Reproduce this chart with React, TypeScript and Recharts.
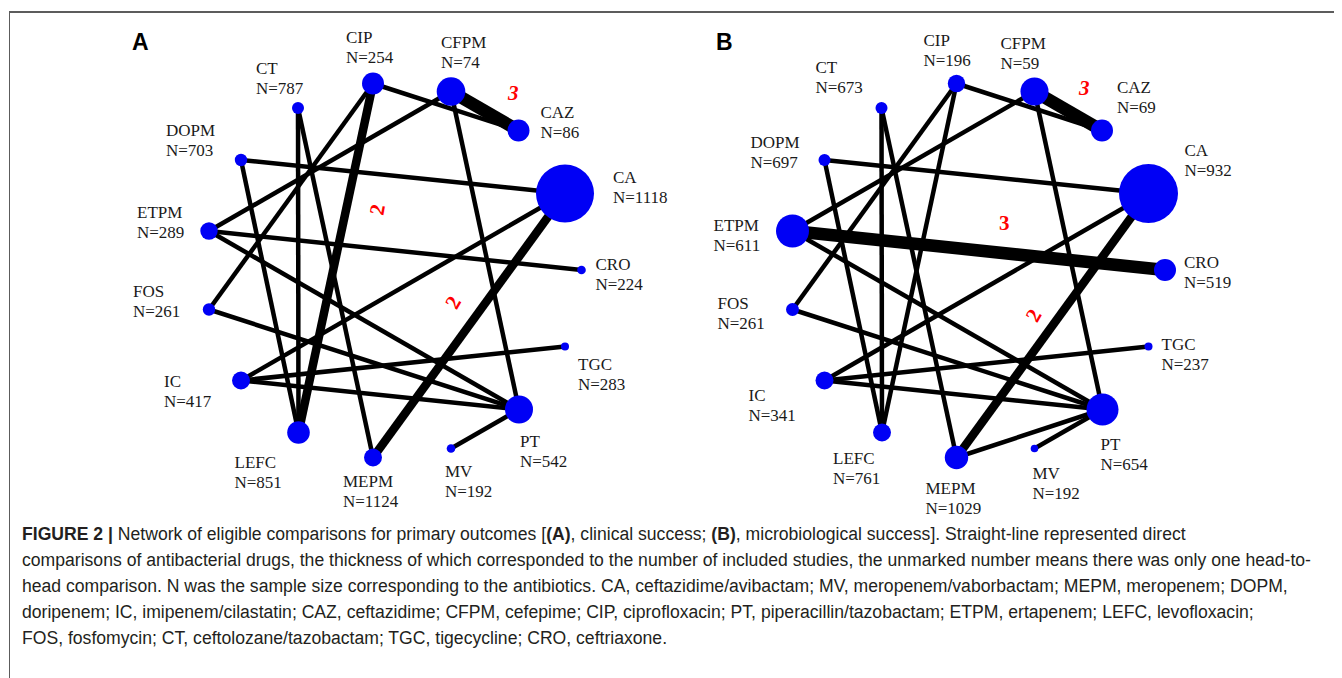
import React from 'react';
import { ScatterChart, Scatter, XAxis, YAxis } from 'recharts';

// Network of eligible comparisons, panels A (clinical) and B (microbiological)

const DRUGS = ['CT', 'CIP', 'CFPM', 'CAZ', 'DOPM', 'CA', 'ETPM', 'CRO', 'FOS', 'TGC', 'IC', 'PT', 'LEFC', 'MEPM', 'MV'];

// network layout (same layout in both panels)
const LAYOUT_X = [290, 365, 443, 510.5, 233, 557, 201, 573.5, 201, 557, 233, 511, 290.5, 365, 443];
const LAYOUT_Y = [100, 75.5, 83.5, 122.5, 152, 185.5, 223, 262, 301.5, 338.5, 372.5, 401.5, 424.5, 449.5, 440.5];

// sample sizes
const N_A = [787, 254, 74, 86, 703, 1118, 289, 224, 261, 283, 417, 542, 851, 1124, 192];
const N_B = [673, 196, 59, 69, 697, 932, 611, 519, 261, 237, 341, 654, 761, 1029, 192];

// node weight (drawn radius)
const WEIGHT_A = [6, 11, 14.3, 11, 6.2, 29, 8.7, 4.3, 6.2, 4, 9, 14, 11.3, 9, 4.3];
const WEIGHT_B = [6, 8.7, 14, 11, 6, 29.5, 16.5, 11, 6.5, 4, 9, 16, 9, 11.7, 3.8];

// direct comparisons: [drug, drug, number of studies]
const EDGES_A: [string, string, number][] = [
  ['CIP', 'CAZ', 1],
  ['CFPM', 'CAZ', 3],
  ['CIP', 'LEFC', 2],
  ['CIP', 'FOS', 1],
  ['ETPM', 'CFPM', 1],
  ['CT', 'LEFC', 1],
  ['CT', 'MEPM', 1],
  ['DOPM', 'CA', 1],
  ['DOPM', 'LEFC', 1],
  ['ETPM', 'CRO', 1],
  ['ETPM', 'PT', 1],
  ['FOS', 'PT', 1],
  ['IC', 'CA', 1],
  ['IC', 'TGC', 1],
  ['IC', 'PT', 1],
  ['CFPM', 'PT', 1],
  ['CA', 'MEPM', 2],
  ['MV', 'PT', 1],
];

const EDGES_B: [string, string, number][] = [
  ['CIP', 'CAZ', 1],
  ['CFPM', 'CAZ', 3],
  ['CIP', 'LEFC', 1],
  ['CIP', 'FOS', 1],
  ['ETPM', 'CFPM', 1],
  ['CT', 'LEFC', 1],
  ['CT', 'MEPM', 1],
  ['DOPM', 'CA', 1],
  ['DOPM', 'LEFC', 1],
  ['ETPM', 'CRO', 3],
  ['ETPM', 'PT', 1],
  ['FOS', 'PT', 1],
  ['IC', 'CA', 1],
  ['IC', 'TGC', 1],
  ['IC', 'PT', 1],
  ['CFPM', 'PT', 1],
  ['CA', 'MEPM', 2],
  ['MV', 'PT', 1],
  ['MEPM', 'PT', 1],
];

// ---- layout / style (not data) ----
const WIDTH = 1334;
const HEIGHT = 520;
const PANEL_B_SHIFT = 583.5;

const NAME_OFFSET_A: Record<string, [number, number]> = {
  CT: [-42, -34], CIP: [-27, -41], CFPM: [-10, -44], CAZ: [22, -13], DOPM: [-75, -24],
  CA: [48, -11], ETPM: [-72, -13], CRO: [14, 0], FOS: [-76, -13], TGC: [13, 23],
  IC: [-77, 6], PT: [1, 37], LEFC: [-64, 35], MEPM: [-30, 29], MV: [-6, 28],
};
const NAME_OFFSET_B: Record<string, [number, number]> = {
  CT: [-66, -35], CIP: [-33, -38], CFPM: [-34, -43], CAZ: [15, -38], DOPM: [-74, -12],
  CA: [36, -38], ETPM: [-79, 0], CRO: [19, -2], FOS: [-75, -1], TGC: [13, 3],
  IC: [-76, 20], PT: [-2, 40], LEFC: [-49, 31], MEPM: [-31, 36], MV: [-2, 30],
};

type CountStyle = { dx: number; dy: number; rot: number; italic?: boolean };
const COUNT_STYLE_A: Record<string, CountStyle> = {
  'CFPM-CAZ': { dx: 28.5, dy: -18.5, rot: 0, italic: true },
  'CIP-LEFC': { dx: 41.5, dy: -48.5, rot: -80 },
  'CA-MEPM': { dx: -16, dy: -23, rot: -60 },
};
const COUNT_STYLE_B: Record<string, CountStyle> = {
  'CFPM-CAZ': { dx: 16, dy: -23.5, rot: 0, italic: true },
  'ETPM-CRO': { dx: 25.5, dy: -28, rot: 0 },
  'CA-MEPM': { dx: -19, dy: -10, rot: -60 },
};

const edgeWidth = (studies: number) => 0.5 + studies * 4;

const serif = '"Liberation Serif", "Times New Roman", serif';
const sans = '"Liberation Sans", Arial, Helvetica, sans-serif';

function buildPanel(ns: number[], weights: number[], shift: number, offsets: Record<string, [number, number]>) {
  return DRUGS.map((name, i) => ({
    name,
    x: LAYOUT_X[i] + shift,
    y: LAYOUT_Y[i],
    n: ns[i],
    r: weights[i],
    ldx: offsets[name][0],
    ldy: offsets[name][1],
  }));
}

const NodeShape = (props: any) => {
  const { cx, cy } = props;
  const p = props.payload ?? props;
  const tx = cx + p.ldx;
  const ty = cy + p.ldy;
  return (
    <g>
      <circle cx={cx} cy={cy} r={p.r} fill="#0000f5" />
      <text x={tx} y={ty} fontFamily={serif} fontSize={17} fill="#1a1a1a">
        <tspan x={tx}>{p.name}</tspan>
        <tspan x={tx} dy={20}>{`N=${p.n}`}</tspan>
      </text>
    </g>
  );
};

const CountShape = (props: any) => {
  const { cx, cy } = props;
  const p = props.payload ?? props;
  const x = cx + p.dx;
  const y = cy + p.dy;
  return (
    <text
      x={x}
      y={y}
      textAnchor="middle"
      dominantBaseline="central"
      fontFamily={serif}
      fontSize={21}
      fontWeight="bold"
      fontStyle={p.italic ? 'italic' : 'normal'}
      fill="#ff0000"
      transform={p.rot ? `rotate(${p.rot} ${x} ${y})` : undefined}
    >
      {p.label}
    </text>
  );
};

const NoDot = () => <g />;

function panelMarks(
  key: string,
  ns: number[],
  weights: number[],
  shift: number,
  offsets: Record<string, [number, number]>,
  edges: [string, string, number][],
  countStyle: Record<string, CountStyle>
) {
  const nodes = buildPanel(ns, weights, shift, offsets);
  const at = (name: string) => nodes[DRUGS.indexOf(name)];
  const edgeSeries = edges.map(([a, b, k], i) => (
    <Scatter
      key={`${key}-e${i}`}
      data={[{ x: at(a).x, y: at(a).y }, { x: at(b).x, y: at(b).y }]}
      line={{ stroke: '#000', strokeWidth: edgeWidth(k) }}
      shape={NoDot}
      legendType="none"
      isAnimationActive={false}
    />
  ));
  const counts = edges
    .filter(([, , k]) => k > 1)
    .map(([a, b, k]) => {
      const st = countStyle[`${a}-${b}`] ?? { dx: 0, dy: -12, rot: 0 };
      return {
        x: (at(a).x + at(b).x) / 2,
        y: (at(a).y + at(b).y) / 2,
        label: String(k),
        ...st,
      };
    });
  return [
    ...edgeSeries,
    <Scatter key={`${key}-nodes`} data={nodes} shape={NodeShape} isAnimationActive={false} />,
    <Scatter key={`${key}-counts`} data={counts} shape={CountShape} isAnimationActive={false} />,
  ];
}

const CAPTION_LINES: React.ReactNode[] = [
  <>
    <b>FIGURE 2 |</b> Network of eligible comparisons for primary outcomes [<b>(A)</b>, clinical success; <b>(B)</b>,
    microbiological success]. Straight-line represented direct
  </>,
  'comparisons of antibacterial drugs, the thickness of which corresponded to the number of included studies, the unmarked number means there was only one head-to-',
  'head comparison. N was the sample size corresponding to the antibiotics. CA, ceftazidime/avibactam; MV, meropenem/vaborbactam; MEPM, meropenem; DOPM,',
  'doripenem; IC, imipenem/cilastatin; CAZ, ceftazidime; CFPM, cefepime; CIP, ciprofloxacin; PT, piperacillin/tazobactam; ETPM, ertapenem; LEFC, levofloxacin;',
  'FOS, fosfomycin; CT, ceftolozane/tazobactam; TGC, tigecycline; CRO, ceftriaxone.',
];

export default function App() {
  return (
    <div style={{ position: 'relative', width: WIDTH, height: 670 }}>
      <div
        style={{
          position: 'absolute',
          left: 0.5,
          top: 3,
          width: WIDTH,
          height: 667,
          borderTop: '2px solid #5c5c5c',
          borderLeft: '1.5px solid #5c5c5c',
          boxSizing: 'border-box',
        }}
      />
      <div style={{ position: 'absolute', left: 0, top: 0 }}>
        <ScatterChart width={WIDTH} height={HEIGHT} margin={{ top: 0, right: 0, bottom: 0, left: 0 }}>
          <XAxis type="number" dataKey="x" domain={[0, WIDTH]} hide allowDataOverflow />
          <YAxis type="number" dataKey="y" domain={[0, HEIGHT]} reversed hide allowDataOverflow />
          {panelMarks('A', N_A, WEIGHT_A, 0, NAME_OFFSET_A, EDGES_A, COUNT_STYLE_A)}
          {panelMarks('B', N_B, WEIGHT_B, PANEL_B_SHIFT, NAME_OFFSET_B, EDGES_B, COUNT_STYLE_B)}
        </ScatterChart>
      </div>
      <div style={{ position: 'absolute', left: 124, top: 21, fontFamily: sans, fontWeight: 'bold', fontSize: 23 }}>A</div>
      <div style={{ position: 'absolute', left: 708, top: 21, fontFamily: sans, fontWeight: 'bold', fontSize: 23 }}>B</div>
      <div
        style={{
          position: 'absolute',
          left: 14,
          top: 513,
          fontFamily: sans,
          fontSize: 17.6,
          lineHeight: '26px',
          color: '#231f20',
          whiteSpace: 'nowrap',
        }}
      >
        {CAPTION_LINES.map((l, i) => (
          <div key={i}>{l}</div>
        ))}
      </div>
    </div>
  );
}
